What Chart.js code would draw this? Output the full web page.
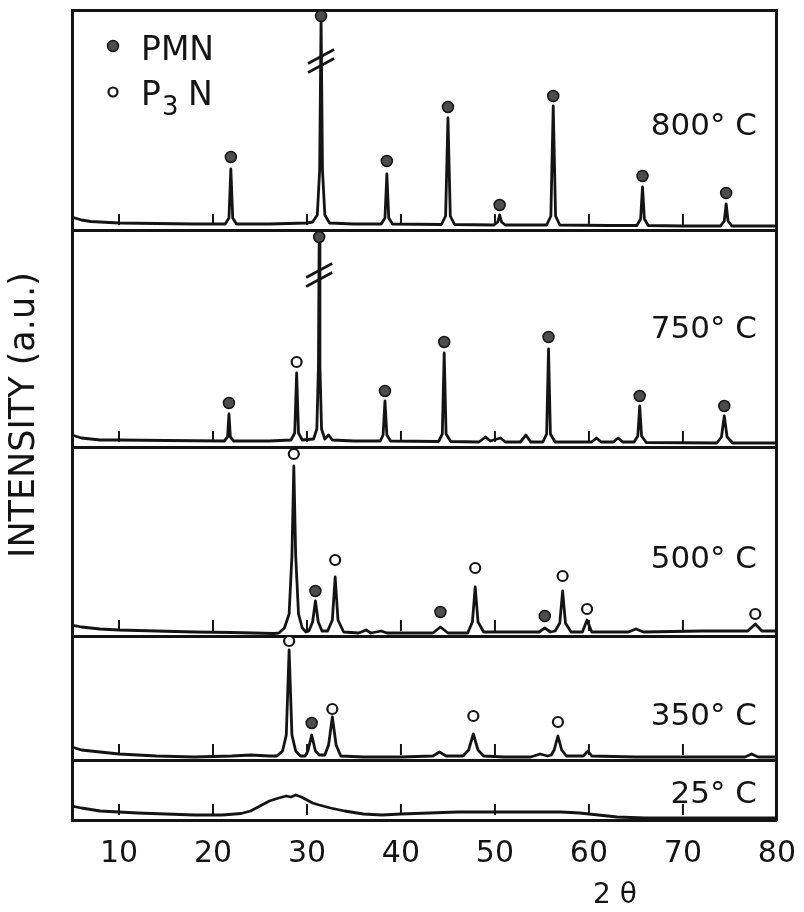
<!DOCTYPE html>
<html>
<head>
<meta charset="utf-8">
<script src="https://cdn.jsdelivr.net/npm/chart.js@4.4.1/dist/chart.umd.min.js"></script>
<style>
html,body{margin:0;padding:0;background:#fff;}
#wrap{width:804px;height:912px;position:relative;}
</style>
</head>
<body>
<div id="wrap"><canvas id="c"></canvas></div>
<script>
// ---------------- DATA (2θ in degrees, intensity in a.u. above each trace's own baseline) -------------
const tickLabels = [10, 20, 30, 40, 50, 60, 70, 80];
const recorderTicks = [10, 20, 30, 40, 50, 60, 70];
const temperatures = ['800° C', '750° C', '500° C', '350° C', '25° C'];

const scan800 = [[5,13],[6,10],[7,8.5],[8,8],[10,7],[14,6.5],[18,6],[21.3,6],[21.7,12],[21.9,61],[22.1,12],[22.5,6],
  [26,6],[30,7],[30.6,8],[31.1,15],[31.35,60],[31.5,212],[31.65,60],[31.9,15],[32.4,7],[35,6],
  [37.9,6],[38.3,12],[38.5,56],[38.7,12],[39.1,6],[44.3,5.5],[44.75,14],[45,112],[45.25,14],[45.7,5.5],
  [49.9,5],[50.3,8],[50.5,15],[50.7,8],[51.1,5],[55.5,5],[55.95,14],[56.2,124],[56.45,14],[56.9,5],
  [62,4.5],[65.1,4.5],[65.5,11],[65.7,43],[65.9,11],[66.3,4.5],[70,4],[74,4],[74.4,9],[74.6,26],[74.8,9],[75.2,4],[80,4]];
const scan750 = [[5,12],[6,9],[8,7],[10,7],[15,6.5],[21.2,6],[21.55,10],[21.7,33],[21.85,10],[22.2,6],[26,6],
  [28.3,7],[28.7,14],[28.9,74],[29.1,14],[29.5,7],[30.7,8],[31.05,18],[31.22,80],[31.3,214],[31.38,80],[31.55,18],[31.9,8],
  [32.3,12],[32.7,7],[35,6],[37.8,6],[38.1,12],[38.3,46],[38.5,12],[38.9,6],[44.0,5.5],[44.4,13],[44.6,94],[44.8,13],[45.3,5.5],
  [48.3,5],[49.0,10],[49.5,6],[50.6,9],[51.1,5],[52.7,5],[53.3,12],[53.8,5],[55.1,5],[55.5,13],[55.7,98],[55.9,13],[56.4,5],
  [60.3,5],[60.8,9],[61.3,5],[62.6,5],[63.1,9],[63.6,5],[64.8,5],[65.2,11],[65.4,41],[65.6,11],[66.1,4.5],
  [73.6,4],[74.1,10],[74.4,31],[74.7,10],[75.3,4],[80,4]];
const scan500 = [[5,11],[6,9],[8,7],[10,6],[14,5],[18,4],[22,3.5],[26.5,2.5],[27.0,3],[27.6,8],[28.1,22],[28.4,80],[28.6,170],
  [28.8,80],[29.1,22],[29.5,8],[29.9,4],[30.2,5],[30.6,14],[30.9,35],[31.2,14],[31.6,5],[32.2,5],[32.7,16],[33.0,59],[33.3,16],[33.9,4],
  [35.5,3],[36.3,6],[36.8,3],[37.9,5],[38.5,3],[43.4,3],[44.2,9],[45.0,3],[47.1,3],[47.6,14],[47.9,49],[48.2,14],[48.8,4],
  [54.7,4],[55.3,8],[55.9,4],[56.4,5],[56.9,13],[57.2,45],[57.5,13],[58.1,4],[59.3,4],[59.8,16],[60.3,4],
  [64.2,4],[65.0,7],[65.8,4],[72,5],[76.9,5],[77.7,12],[78.4,5],[80,5]];
const scan350 = [[5,13],[6,10],[8,8],[10,6],[14,4],[18,3],[22,4],[24,5],[26,4],[26.8,4],[27.4,9],[27.8,25],[28.1,110],[28.4,25],
  [28.8,9],[29.3,4],[29.8,4],[30.1,9],[30.5,25],[30.9,9],[31.3,5],[31.9,5],[32.3,15],[32.7,43],[33.1,15],[33.6,4],
  [36,3],[40,3],[43.4,4],[44.1,8],[44.8,4],[46.6,4],[47.2,10],[47.7,26],[48.2,10],[48.8,4],[51,3],[53.8,3],[54.8,6],[55.6,4],
  [56.0,5],[56.3,10],[56.7,24],[57.1,10],[57.6,4],[59.4,4],[59.9,9],[60.3,4],[65,3],[70,3],[76.6,3],[77.3,6],[78,3],[80,3]];
const scan25 = [[5,14],[6,12],[8,9],[10,8],[12,7],[15,6],[18,5],[21,5],[23,6.5],[24,9],[25,14],[26,19],[27,22],[27.8,24],
  [28.3,23],[28.8,25],[29.4,23],[30,20],[30.6,17],[31.3,15],[32.5,12],[34,9],[36,6],[38,5],[40,6],[43,7],[46,8],[50,8],
  [54,8],[57,8],[59,7],[61,5],[63,3],[66,2],[70,2],[75,2],[80,2]];

// phase markers: [2θ, height of the marker in a.u.]
const pmn800 = [[21.9,73],[31.5,214],[38.5,69],[45.0,123],[50.5,25],[56.2,134],[65.7,54],[74.6,37]];
const p3n800 = [];
const pmn750 = [[21.7,44],[31.3,210],[38.3,56],[44.6,105],[55.7,110],[65.4,51],[74.4,41]];
const p3n750 = [[28.9,85]];
const pmn500 = [[30.9,45],[44.2,24],[55.3,20]];
const p3n500 = [[28.6,182],[33.0,76],[47.9,68],[57.2,60],[59.8,27],[77.7,22]];
const pmn350 = [[30.5,37]];
const p3n350 = [[28.1,119],[32.7,51],[47.7,44],[56.7,38]];
const pmn25 = [];
const p3n25 = [];

// axis breaks on the off-scale peaks: [panel index, 2θ, height]
const axisBreaks = [[0,31.5,169],[1,31.3,172]];

// ---------------- LAYOUT -------------
const INK = '#141414';
const FONT = '"DejaVu Sans", sans-serif';
const panelBase = [590, 373, 184, 60, 0];   // bottom of each stacked panel (y units)
const panelTop = 810;
const labelRise = [95, 109, 68, 35, 17];

const scans = [scan800, scan750, scan500, scan350, scan25];
const pmns = [pmn800, pmn750, pmn500, pmn350, pmn25];
const p3ns = [p3n800, p3n750, p3n500, p3n350, p3n25];

const shift = (arr, b) => arr.map(([x, v]) => ({x: x, y: b + v}));

const datasets = [];
scans.forEach((s, i) => {
  datasets.push({label: 'PMN ' + temperatures[i], data: shift(pmns[i], panelBase[i]), showLine: false,
    pointRadius: 5.5, pointBackgroundColor: '#4d4d4d', pointBorderColor: INK, pointBorderWidth: 1.5, order: 0});
  datasets.push({label: 'P3N ' + temperatures[i], data: shift(p3ns[i], panelBase[i]), showLine: false,
    pointRadius: 5, pointBackgroundColor: '#ffffff', pointBorderColor: INK, pointBorderWidth: 2.2, order: 0});
  datasets.push({label: temperatures[i], data: shift(s, panelBase[i]), showLine: true, borderColor: INK,
    borderWidth: 2.8, pointRadius: 0, tension: 0, fill: false, order: 1, borderJoinStyle: 'round'});
});

const annotate = {
  id: 'annotate',
  afterDatasetsDraw(chart) {
    const {ctx, chartArea: ca, scales: {x, y}} = chart;
    ctx.save();
    ctx.strokeStyle = INK; ctx.fillStyle = INK; ctx.lineCap = 'butt';
    // recorder tick marks inside every panel
    ctx.lineWidth = 2;
    panelBase.forEach(b => recorderTicks.forEach(t => {
      const px = x.getPixelForValue(t);
      ctx.beginPath();
      ctx.moveTo(px, y.getPixelForValue(b + 5));
      ctx.lineTo(px, y.getPixelForValue(b + 16));
      ctx.stroke();
    }));
    // axis break marks
    ctx.lineWidth = 2.6;
    axisBreaks.forEach(([p, t, h]) => {
      const px = x.getPixelForValue(t), py = y.getPixelForValue(panelBase[p] + h);
      [-4.5, 4.5].forEach(d => {
        ctx.beginPath();
        ctx.moveTo(px - 13, py + d + 7);
        ctx.lineTo(px + 13, py + d - 7);
        ctx.stroke();
      });
    });
    // temperature labels
    ctx.font = '31px ' + FONT; ctx.textAlign = 'right'; ctx.textBaseline = 'alphabetic';
    temperatures.forEach((t, i) => {
      ctx.fillText(t, ca.right - 20, y.getPixelForValue(panelBase[i] + labelRise[i]));
    });
    // legend
    const lx = ca.left + 41;
    ctx.beginPath(); ctx.arc(lx, 46, 5.5, 0, Math.PI * 2);
    ctx.fillStyle = '#4d4d4d'; ctx.fill(); ctx.lineWidth = 1.5; ctx.stroke();
    ctx.beginPath(); ctx.arc(lx, 92, 4.5, 0, Math.PI * 2);
    ctx.fillStyle = '#fff'; ctx.fill(); ctx.lineWidth = 2.2; ctx.stroke();
    ctx.fillStyle = INK; ctx.textAlign = 'left';
    ctx.font = '33px ' + FONT;
    ctx.fillText('PMN', lx + 28, 60);
    ctx.fillText('P', lx + 28, 105);
    ctx.fillText('N', lx + 75, 105);
    ctx.font = '26px ' + FONT;
    ctx.fillText('3', lx + 49, 115);
    // x-axis title
    ctx.font = '28px ' + FONT; ctx.textAlign = 'center'; ctx.textBaseline = 'alphabetic';
    ctx.fillText('2 θ', 615, 903);
    ctx.restore();
  }
};

Chart.defaults.font.family = FONT;
Chart.defaults.color = INK;

new Chart(document.getElementById('c'), {
  type: 'scatter',
  data: {datasets},
  plugins: [annotate],
  options: {
    responsive: true,
    maintainAspectRatio: false,
    animation: false,
    events: [],
    layout: {padding: {top: 10, right: 18, bottom: 0, left: 0}},
    plugins: {legend: {display: false}, tooltip: {enabled: false}},
    scales: {
      x: {
        type: 'linear', position: 'bottom', min: 5, max: 80,
        afterBuildTicks: s => { s.ticks = tickLabels.map(v => ({value: v})); },
        afterFit: s => { s.height = 92; },
        grid: {display: false},
        border: {display: true, color: INK, width: 3},
        ticks: {color: INK, font: {size: 30}, padding: 8, maxRotation: 0, autoSkip: false}
      },
      y: {
        type: 'linear', position: 'left', min: 0, max: panelTop,
        afterBuildTicks: s => { s.ticks = [...panelBase, panelTop].map(v => ({value: v})); },
        afterFit: s => { s.width = 72; },
        grid: {color: INK, lineWidth: 3, drawTicks: false},
        border: {display: true, color: INK, width: 3},
        ticks: {display: false},
        title: {display: true, text: 'INTENSITY (a.u.)', color: INK, font: {size: 35}, padding: {top: 4, bottom: 0}}
      },
      yR: {
        type: 'linear', position: 'right', min: 0, max: panelTop,
        afterFit: s => { s.width = 0; },
        grid: {display: false},
        border: {display: true, color: INK, width: 3},
        ticks: {display: false}
      }
    }
  }
});
</script>
</body>
</html>
